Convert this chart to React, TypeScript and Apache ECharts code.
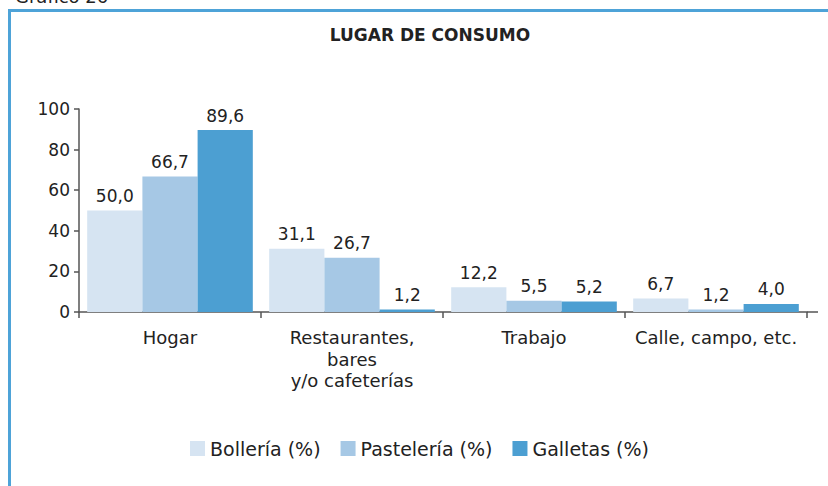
import React, { useEffect, useRef } from "react";
import * as echarts from "echarts";

const categories = ["Hogar", "Restaurantes,\nbares\ny/o cafeterías", "Trabajo", "Calle, campo, etc."];
const seriesNames = ["Bollería (%)", "Pastelería (%)", "Galletas (%)"];
const bolleria = [50.0, 31.1, 12.2, 6.7];
const pasteleria = [66.7, 26.7, 5.5, 1.2];
const galletas = [89.6, 1.2, 5.2, 4.0];
const colors = ["#d6e4f2", "#a6c8e5", "#4c9fd2"];
const yTicks = { min: 0, max: 100, interval: 20 };

const FONT = "'DejaVu Sans', sans-serif";

export default function App() {
  const ref = useRef<HTMLDivElement>(null);
  useEffect(() => {
    if (!ref.current) return;
    const chart = echarts.init(ref.current, null, { renderer: "svg" });
    const mk = (name: string, data: number[], color: string) => ({
      name,
      type: "bar",
      data,
      barGap: "0%",
      barCategoryGap: "9%",
      itemStyle: { color },
      label: {
        show: true,
        position: "top",
        distance: 6,
        color: "#222",
        fontFamily: FONT,
        fontSize: 17,
        formatter: (p: any) => p.value.toFixed(1).replace(".", ","),
      },
    });
    chart.setOption({
      animation: false,
      backgroundColor: "#fff",
      textStyle: { fontFamily: FONT },
      graphic: [
        {
          type: "text",
          left: 15,
          top: -13,
          style: { text: "Gráfico 26", fill: "#222", fontSize: 18, fontFamily: FONT },
        },
        {
          type: "line",
          shape: { x1: 9.5, y1: 9.5, x2: 9.5, y2: 486 },
          style: { stroke: "#4ea3d8", lineWidth: 3 },
        },
        {
          type: "line",
          shape: { x1: 8, y1: 10.5, x2: 828, y2: 10.5 },
          style: { stroke: "#4ea3d8", lineWidth: 3 },
        },
        {
          type: "line",
          shape: { x1: 807, y1: 312, x2: 818, y2: 312 },
          style: { stroke: "#555", lineWidth: 1.5 },
        },
      ],
      title: {
        text: "LUGAR DE CONSUMO",
        left: 425,
        textAlign: "center",
        top: 21,
        textStyle: { fontFamily: FONT, fontSize: 17, fontWeight: "bold", color: "#222" },
      },
      legend: {
        data: seriesNames,
        top: 434,
        left: 185,
        itemWidth: 15,
        itemHeight: 15,
        itemGap: 20,
        icon: "rect",
        textStyle: { fontFamily: FONT, fontSize: 19, color: "#222" },
      },
      grid: { left: 79, right: 21, top: 109, bottom: 174, containLabel: false },
      xAxis: {
        type: "category",
        data: categories,
        axisLine: { lineStyle: { color: "#555", width: 1.5 } },
        axisTick: { show: true, length: 6, lineStyle: { color: "#555", width: 1.5 } },
        axisLabel: {
          color: "#222",
          fontSize: 18,
          fontFamily: FONT,
          margin: 15,
          lineHeight: 21.5,
          interval: 0,
        },
      },
      yAxis: {
        type: "value",
        min: yTicks.min,
        max: yTicks.max,
        interval: yTicks.interval,
        splitLine: { show: false },
        axisLine: { show: true, lineStyle: { color: "#555", width: 1.5 } },
        axisTick: { show: true, length: 5, lineStyle: { color: "#555", width: 1.5 } },
        axisLabel: { color: "#222", fontSize: 17, fontFamily: FONT, margin: 9 },
      },
      series: [
        mk(seriesNames[0], bolleria, colors[0]),
        mk(seriesNames[1], pasteleria, colors[1]),
        mk(seriesNames[2], galletas, colors[2]),
      ],
    });
    return () => chart.dispose();
  }, []);
  return (
    <div
      ref={ref}
      style={{ position: "absolute", left: 0, top: 0, width: 828, height: 486 }}
    />
  );
}
